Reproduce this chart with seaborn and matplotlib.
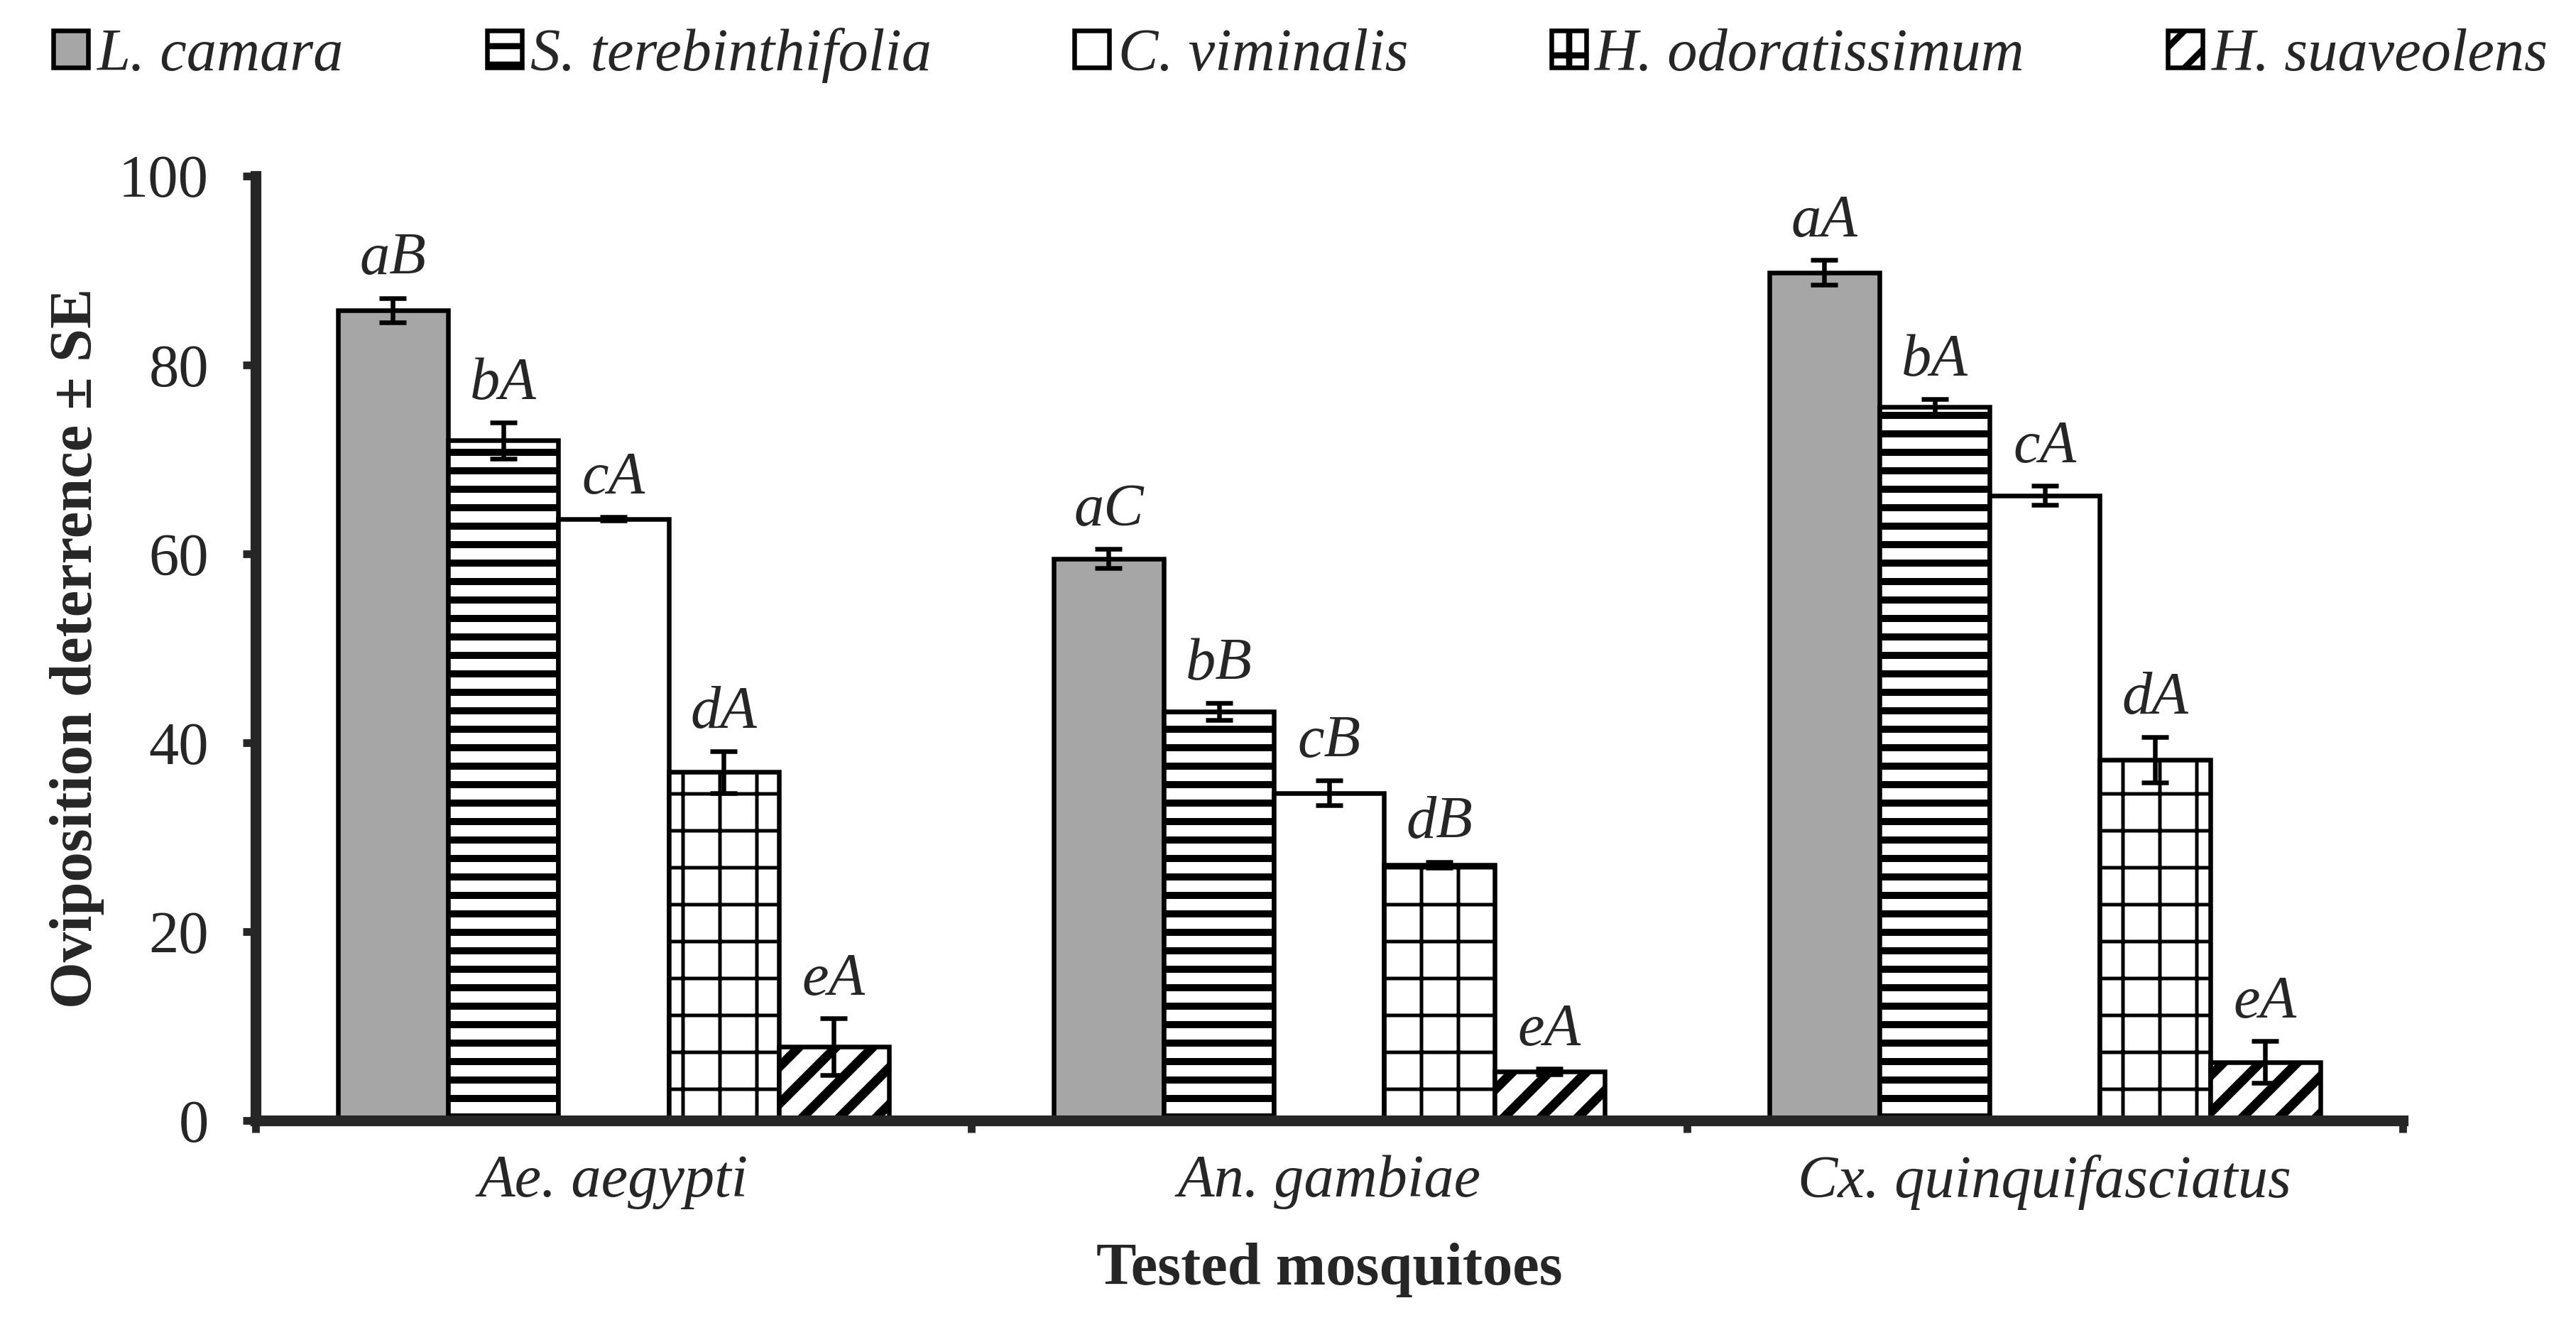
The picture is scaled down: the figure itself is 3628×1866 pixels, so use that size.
import matplotlib
matplotlib.use("Agg")
import matplotlib.pyplot as plt
import numpy as np
import pandas as pd
import seaborn as sns

# Data
mosquitoes = ["Ae. aegypti", "An. gambiae", "Cx. quinquifasciatus"]
oils = ["L. camara", "S. terebinthifolia", "C. viminalis", "H. odoratissimum", "H. suaveolens"]

ae_mean = [85.8, 72.0, 63.7, 36.9, 7.8]
an_mean = [59.5, 43.3, 34.7, 27.1, 5.2]
cx_mean = [89.8, 75.6, 66.2, 38.2, 6.2]

ae_se = [1.3, 1.9, 0.2, 2.2, 3.0]
an_se = [1.0, 0.9, 1.3, 0.3, 0.3]
cx_se = [1.3, 0.8, 1.0, 2.4, 2.2]

ae_letters = ["aB", "bA", "cA", "dA", "eA"]
an_letters = ["aC", "bB", "cB", "dB", "eA"]
cx_letters = ["aA", "bA", "cA", "dA", "eA"]

oil_colors = ["#a6a6a6", "white", "white", "white", "white"]
oil_hatches = [None, "--", None, "+", "//"]
hatch_widths = [1.0, 2.3, 1.0, 1.15, 3.0]

rows = []
for m, means, ses, lets in zip(mosquitoes,
                               [ae_mean, an_mean, cx_mean],
                               [ae_se, an_se, cx_se],
                               [ae_letters, an_letters, cx_letters]):
    for o, v, s, l in zip(oils, means, ses, lets):
        rows.append({"mosquito": m, "oil": o, "value": v, "se": s, "letter": l})
df = pd.DataFrame(rows)

sns.set_style("ticks")
plt.rcParams["font.family"] = ["Liberation Serif", "DejaVu Serif"]
plt.rcParams["hatch.linewidth"] = 2.0

FS = 19.5
DPI = 312
fig = plt.figure(figsize=(3628 / DPI, 1866 / DPI), dpi=DPI)
ax = fig.add_axes([0.0992, 0.1543, 0.8335, 0.7128])

sns.barplot(
    data=df, x="mosquito", y="value", hue="oil",
    order=mosquitoes, hue_order=oils,
    palette=dict(zip(oils, oil_colors)), saturation=1,
    width=0.77, errorbar=None, edgecolor="black", linewidth=1.5,
    legend=False, ax=ax,
)
bar_containers = list(ax.containers)

# hatches, error bars and letters per hue level
for i, cont in enumerate(bar_containers):
    sub = df[df["oil"] == oils[i]].set_index("mosquito")
    for p in cont:
        if oil_hatches[i]:
            p.set_hatch(oil_hatches[i])
            if hasattr(p, "set_hatch_linewidth"):
                p.set_hatch_linewidth(hatch_widths[i])
        cx = p.get_x() + p.get_width() / 2
        m = mosquitoes[int(round(cx))]
        h = p.get_height()
        se = sub.loc[m, "se"]
        ax.errorbar(cx, h, yerr=se, fmt="none", ecolor="black",
                    elinewidth=1.5, capsize=4.4, capthick=1.5, zorder=5)
        ax.annotate(sub.loc[m, "letter"], (cx, h + se), xytext=(0, 3.5),
                    textcoords="offset points", ha="center", va="bottom",
                    fontsize=FS, style="italic")

ax.set_ylim(0, 100)
ax.set_xlim(-0.5, 2.5)
ax.set_yticks(np.arange(0, 101, 20))
ax.set_xticks(range(len(mosquitoes)))
ax.set_xticklabels(mosquitoes, style="italic", fontsize=FS)
ax.set_xticks(np.arange(-0.5, 2.6, 1.0), minor=True)
ax.tick_params(axis="x", which="major", length=0, pad=11)
ax.tick_params(axis="x", which="minor", length=4, width=2.5, direction="out")
ax.tick_params(axis="y", length=4.2, width=2.5, direction="out", pad=11, labelsize=FS)

for s in ["top", "right"]:
    ax.spines[s].set_visible(False)
for s in ["left", "bottom"]:
    ax.spines[s].set_linewidth(3.5)

ax.set_ylabel("Oviposition deterrence ± SE", fontsize=FS, fontweight="bold")
ax.yaxis.set_label_coords(-0.0704, 0.5)
ax.set_xlabel("Tested mosquitoes", fontsize=FS, fontweight="bold")
ax.xaxis.set_label_coords(0.5, -0.129)

fig.legend(
    bar_containers, oils, loc="center", bbox_to_anchor=(0.505, 1 - 78 / 1866),
    ncol=5, frameon=False, handlelength=0.58, handleheight=0.58,
    handletextpad=0.15, columnspacing=2.38, borderaxespad=0,
    prop={"style": "italic", "size": FS, "family": ["Liberation Serif", "DejaVu Serif"]},
)

fig.savefig("out.png", dpi=DPI, facecolor="white")
